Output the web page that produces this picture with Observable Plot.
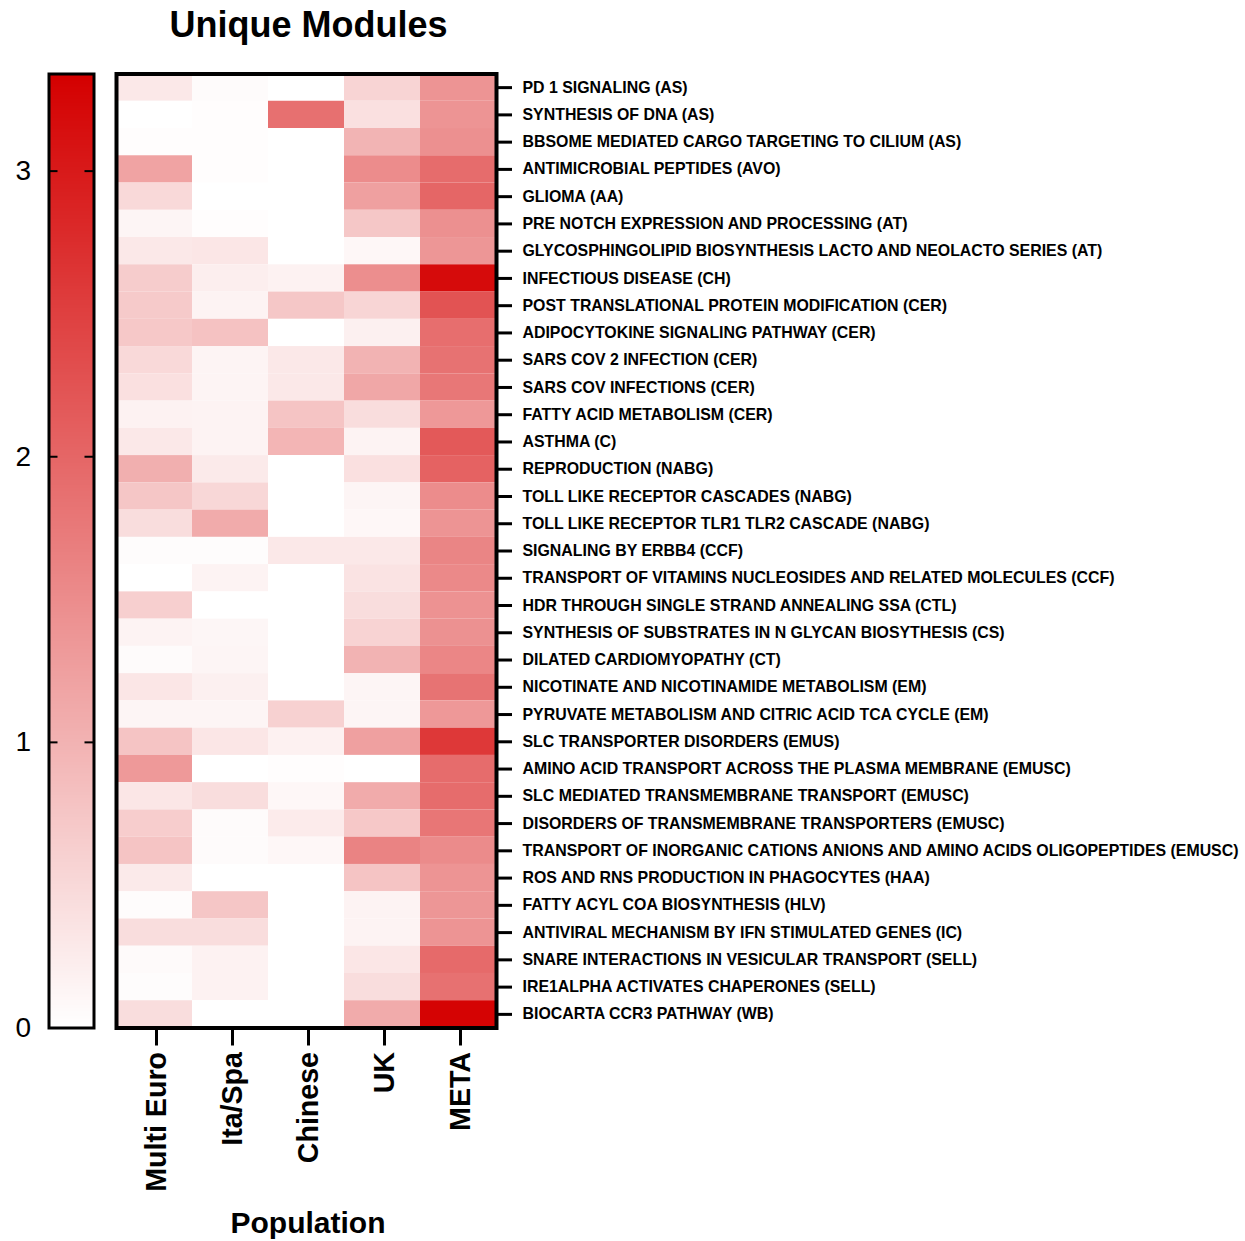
<!DOCTYPE html>
<html>
<head>
<meta charset="utf-8">
<script src="https://cdn.jsdelivr.net/npm/d3@7"></script>
<script src="https://cdn.jsdelivr.net/npm/@observablehq/plot@0.6"></script>
<style>
  body { margin: 0; background: #fff; }
  #chart { position: relative; width: 1245px; height: 1241px; color: #000;
           font-family: "Liberation Sans", Arial, Helvetica, sans-serif; }
  #title { position: absolute; left: 0; width: 617px; top: 6.5px; line-height: 36px;
           text-align: center; font-weight: bold; font-size: 36px; }
  #xlabel { position: absolute; left: 0; width: 616px; top: 1207.5px; line-height: 30px;
            text-align: center; font-weight: bold; font-size: 30px; }
  #legend { position: absolute; left: 0; top: 60px; }
  #heat { position: absolute; left: 100px; top: 60px; }
  svg { overflow: visible; display: block; }
</style>
</head>
<body>
<div id="chart">
  <div id="title">Unique Modules</div>
  <div id="legend"></div>
  <div id="heat"></div>
  <div id="xlabel">Population</div>
</div>
<script>
// Populations (columns) and modules (rows, top to bottom)
const populations = ["Multi Euro", "Ita/Spa", "Chinese", "UK", "META"];

const modules = [
  "PD 1 SIGNALING (AS)",
  "SYNTHESIS OF DNA (AS)",
  "BBSOME MEDIATED CARGO TARGETING TO CILIUM (AS)",
  "ANTIMICROBIAL PEPTIDES (AVO)",
  "GLIOMA (AA)",
  "PRE NOTCH EXPRESSION AND PROCESSING (AT)",
  "GLYCOSPHINGOLIPID BIOSYNTHESIS LACTO AND NEOLACTO SERIES (AT)",
  "INFECTIOUS DISEASE (CH)",
  "POST TRANSLATIONAL PROTEIN MODIFICATION (CER)",
  "ADIPOCYTOKINE SIGNALING PATHWAY (CER)",
  "SARS COV 2 INFECTION (CER)",
  "SARS COV INFECTIONS (CER)",
  "FATTY ACID METABOLISM (CER)",
  "ASTHMA (C)",
  "REPRODUCTION (NABG)",
  "TOLL LIKE RECEPTOR CASCADES (NABG)",
  "TOLL LIKE RECEPTOR TLR1 TLR2 CASCADE (NABG)",
  "SIGNALING BY ERBB4 (CCF)",
  "TRANSPORT OF VITAMINS NUCLEOSIDES AND RELATED MOLECULES (CCF)",
  "HDR THROUGH SINGLE STRAND ANNEALING SSA (CTL)",
  "SYNTHESIS OF SUBSTRATES IN N GLYCAN BIOSYTHESIS (CS)",
  "DILATED CARDIOMYOPATHY (CT)",
  "NICOTINATE AND NICOTINAMIDE METABOLISM (EM)",
  "PYRUVATE METABOLISM AND CITRIC ACID TCA CYCLE (EM)",
  "SLC TRANSPORTER DISORDERS (EMUS)",
  "AMINO ACID TRANSPORT ACROSS THE PLASMA MEMBRANE (EMUSC)",
  "SLC MEDIATED TRANSMEMBRANE TRANSPORT (EMUSC)",
  "DISORDERS OF TRANSMEMBRANE TRANSPORTERS (EMUSC)",
  "TRANSPORT OF INORGANIC CATIONS ANIONS AND AMINO ACIDS OLIGOPEPTIDES (EMUSC)",
  "ROS AND RNS PRODUCTION IN PHAGOCYTES (HAA)",
  "FATTY ACYL COA BIOSYNTHESIS (HLV)",
  "ANTIVIRAL MECHANISM BY IFN STIMULATED GENES (IC)",
  "SNARE INTERACTIONS IN VESICULAR TRANSPORT (SELL)",
  "IRE1ALPHA ACTIVATES CHAPERONES (SELL)",
  "BIOCARTA CCR3 PATHWAY (WB)"
];

// Enrichment score per module, one array per population (same order as modules)
const multiEuro = [0.30, 0.00, 0.02, 1.20, 0.50, 0.13, 0.30, 0.67, 0.70, 0.72, 0.50, 0.40, 0.17, 0.30, 1.05, 0.75, 0.45,
                   0.04, 0.00, 0.63, 0.16, 0.05, 0.33, 0.13, 0.77, 1.33, 0.33, 0.66, 0.77, 0.28, 0.04, 0.45, 0.07, 0.04, 0.45];
const itaSpa    = [0.05, 0.03, 0.03, 0.02, 0.00, 0.03, 0.33, 0.22, 0.16, 0.80, 0.15, 0.15, 0.16, 0.16, 0.28, 0.52, 1.10,
                   0.04, 0.16, 0.00, 0.12, 0.13, 0.20, 0.13, 0.33, 0.00, 0.45, 0.05, 0.05, 0.00, 0.75, 0.45, 0.17, 0.17, 0.00];
const chinese   = [0.00, 1.87, 0.00, 0.00, 0.00, 0.00, 0.00, 0.17, 0.74, 0.00, 0.30, 0.30, 0.77, 0.97, 0.00, 0.00, 0.00,
                   0.30, 0.00, 0.00, 0.00, 0.00, 0.00, 0.60, 0.18, 0.02, 0.10, 0.26, 0.10, 0.00, 0.00, 0.00, 0.00, 0.00, 0.00];
const uk        = [0.56, 0.40, 0.98, 1.50, 1.24, 0.74, 0.10, 1.48, 0.55, 0.20, 1.00, 1.15, 0.45, 0.16, 0.40, 0.13, 0.10,
                   0.30, 0.37, 0.45, 0.57, 1.00, 0.13, 0.13, 1.24, 0.00, 1.10, 0.72, 1.62, 0.77, 0.16, 0.16, 0.33, 0.45, 1.10];
const meta      = [1.40, 1.40, 1.45, 1.93, 2.00, 1.45, 1.37, 3.20, 2.25, 1.90, 1.85, 1.78, 1.35, 2.18, 2.05, 1.50, 1.40,
                   1.60, 1.55, 1.43, 1.44, 1.58, 1.83, 1.35, 2.60, 1.93, 1.93, 1.80, 1.52, 1.40, 1.37, 1.40, 1.95, 1.86, 3.30];

const colorbarTicks = [0, 1, 2, 3];
const colorMax = 3.34;

const series = [multiEuro, itaSpa, chinese, uk, meta];
const table = modules.flatMap((module, i) =>
  populations.map((population, j) => ({module, population, value: series[j][i]}))
);

const color = {type: "linear", domain: [0, colorMax], range: ["#ffffff", "#d40000"]};

// Heatmap with row labels on the right and rotated population labels below
const heat = Plot.plot({
  width: 1145,
  height: 1150,
  marginLeft: 16,
  marginRight: 749,
  marginTop: 13.5,
  marginBottom: 182.5,
  style: {fontFamily: "'Liberation Sans', Arial, sans-serif", color: "#000", background: "transparent"},
  x: {domain: populations, padding: 0, round: false, label: null},
  y: {domain: modules, padding: 0, round: false, label: null},
  color,
  marks: [
    Plot.cell(table, {x: "population", y: "module", fill: "value"}),
    Plot.frame({stroke: "#000", strokeWidth: 4}),
    Plot.axisX({anchor: "bottom", tickSize: 18, tickPadding: 6, tickRotate: -90, fontSize: 28.6,
                fontWeight: "bold", strokeWidth: 3, dx: 2, label: null}),
    Plot.axisY({anchor: "right", tickSize: 15, tickPadding: 11, fontSize: 15.9,
                fontWeight: "bold", strokeWidth: 3, label: null})
  ]
});
document.getElementById("heat").appendChild(heat);

// Vertical colour bar drawn through the same colour scale
const legend = Plot.plot({
  width: 110,
  height: 990,
  marginLeft: 48.5,
  marginRight: 16.5,
  marginTop: 13.5,
  marginBottom: 22.5,
  style: {fontFamily: "'Liberation Sans', Arial, sans-serif", color: "#000", background: "transparent"},
  x: {domain: [0, 1], axis: null},
  y: {domain: [0, colorMax], label: null},
  color,
  marks: [
    Plot.raster({x1: 0, x2: 1, y1: 0, y2: colorMax, width: 1, height: 600,
                 fill: (x, y) => y, imageRendering: "auto"}),
    Plot.ruleY(colorbarTicks.slice(1), {x1: 0, x2: 0.2, stroke: "#000", strokeWidth: 2}),
    Plot.ruleY(colorbarTicks.slice(1), {x1: 0.8, x2: 1, stroke: "#000", strokeWidth: 2}),
    Plot.frame({stroke: "#000", strokeWidth: 3}),
    Plot.axisY({anchor: "left", ticks: colorbarTicks, tickSize: 0, tickPadding: 18,
                fontSize: 28, tickFormat: d3.format("d"), label: null})
  ]
});
document.getElementById("legend").appendChild(legend);
</script>
</body>
</html>
